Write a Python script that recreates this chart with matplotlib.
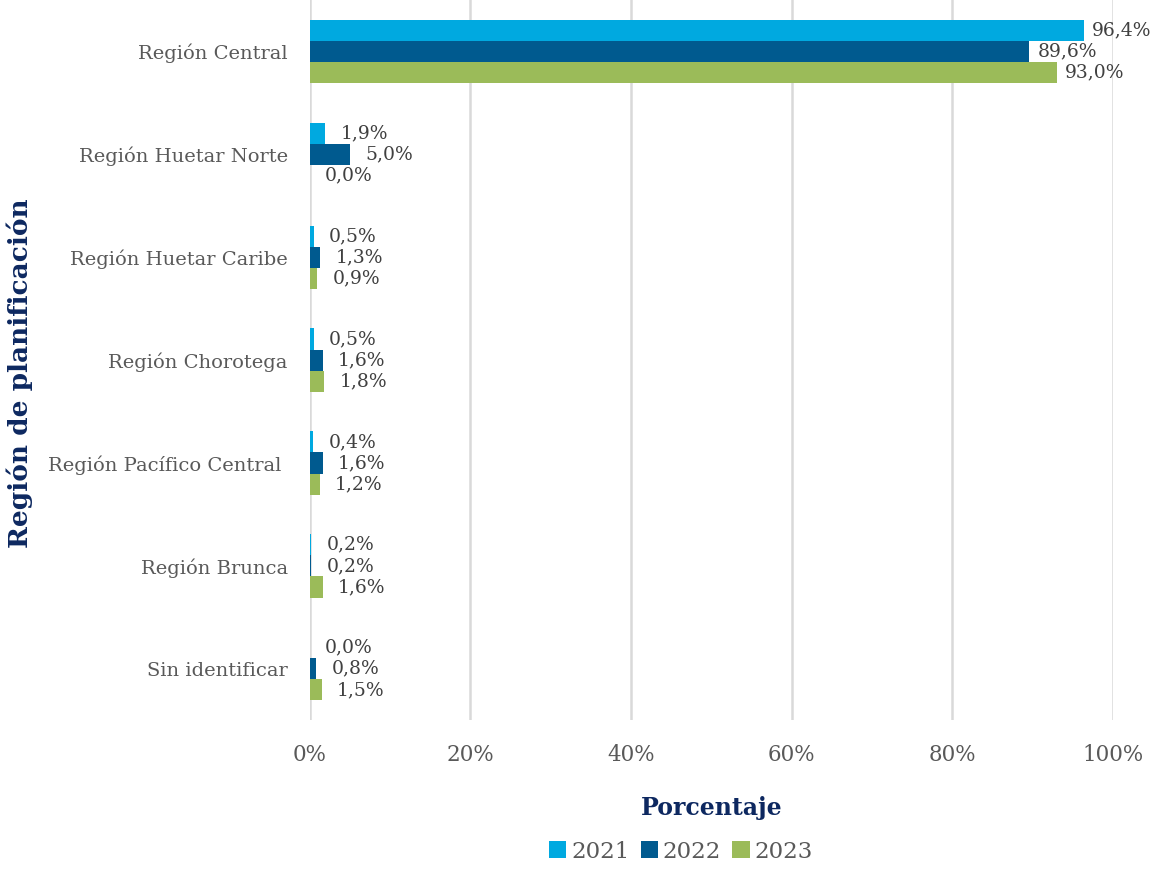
import matplotlib.pyplot as plt
import numpy as np
from matplotlib.ticker import FuncFormatter

plt.rcParams['font.family'] = ['DejaVu Serif']

regiones = ['Región Central', 'Región Huetar Norte', 'Región Huetar Caribe',
            'Región Chorotega', 'Región Pacífico Central ', 'Región Brunca',
            'Sin identificar']
anios = ['2021', '2022', '2023']
v2021 = [96.4, 1.9, 0.5, 0.5, 0.4, 0.2, 0.0]
v2022 = [89.6, 5.0, 1.3, 1.6, 1.6, 0.2, 0.8]
v2023 = [93.0, 0.0, 0.9, 1.8, 1.2, 1.6, 1.5]
colores = ['#00A9E0', '#005A8F', '#9BBB59']

fig = plt.figure(figsize=(11.52, 8.73), dpi=100)
ax = fig.add_axes([0.269, 0.175, 0.697, 0.825])

y = np.arange(len(regiones))
h = 0.205
for i, (serie, anio, c) in enumerate(zip([v2021, v2022, v2023], anios, colores)):
    pos = y + (i - 1) * h
    ax.barh(pos, serie, height=h, color=c, label=anio, zorder=3)
    for p, v in zip(pos, serie):
        ax.annotate(f'{v:.1f}%'.replace('.', ','), (v, p),
                    xytext=(6 if v > 50 else 11, 0),
                    textcoords='offset points', va='center', ha='left',
                    fontsize=13.5, color='#404040')

ax.set_xlim(0, 100)
ax.set_ylim(6.5, -0.5)
ax.set_yticks(y)
ax.set_yticklabels(regiones)
ax.set_xticks(range(0, 101, 20))
ax.xaxis.set_major_formatter(FuncFormatter(lambda x, _: f'{x:.0f}%'))
ax.tick_params(axis='both', length=0, labelcolor='#595959')
ax.tick_params(axis='y', pad=16, labelsize=14)
ax.tick_params(axis='x', pad=17, labelsize=15.5)
ax.grid(axis='x', color='#D9D9D9', linewidth=1.8, zorder=0)
for s in ax.spines.values():
    s.set_visible(False)

ax.set_xlabel('Porcentaje', fontsize=17, fontweight='bold', color='#0D2860', labelpad=22)
fig.text(0.017, 0.572, 'Región de planificación', rotation=90, va='center', ha='center',
         fontsize=19, fontweight='bold', color='#0D2860')

ax.legend(loc='upper center', bbox_to_anchor=(0.462, -0.145), ncol=3, frameon=False,
          fontsize=16.5, handlelength=0.75, handleheight=0.75, handletextpad=0.2,
          columnspacing=0.5, labelcolor='#595959', borderpad=0.2)

fig.savefig('out.png', dpi=100)
